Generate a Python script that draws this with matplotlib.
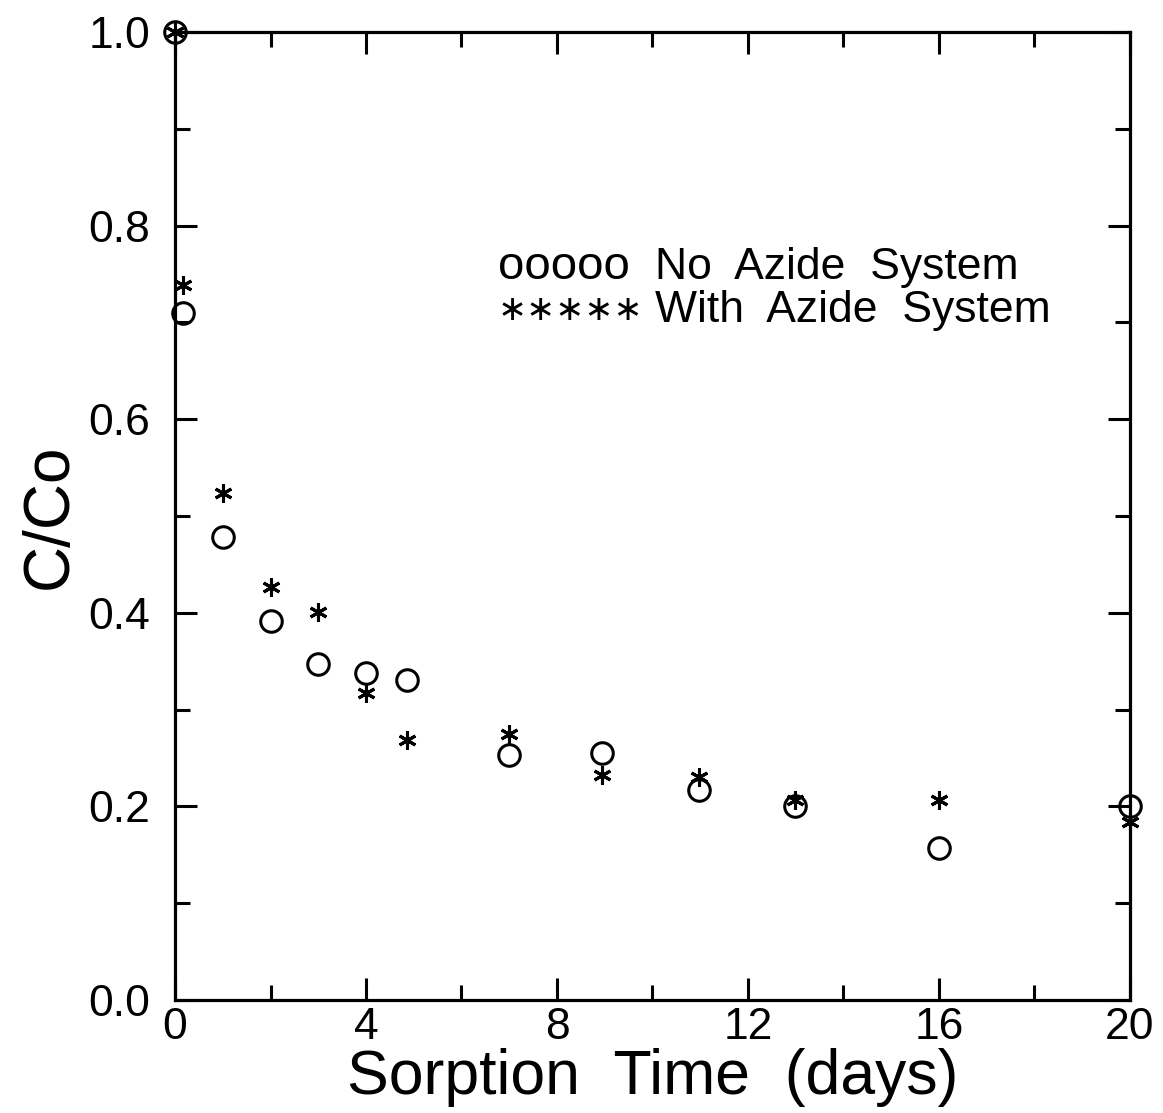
import matplotlib
matplotlib.use("Agg")
import matplotlib.pyplot as plt
from matplotlib.ticker import MultipleLocator, FormatStrFormatter

plt.rcParams['font.family'] = ['Liberation Sans', 'DejaVu Sans']

# sorption time (days)
days = [0, 0.17, 1, 2, 3, 4, 4.86, 7, 8.94, 10.97, 12.98, 16, 20]
# C/Co, no azide system (circles)
no_azide = [1.0, 0.71, 0.478, 0.392, 0.347, 0.338, 0.331, 0.253, 0.255, 0.217, 0.200, 0.157, 0.200]
# C/Co, with azide system (asterisks)
with_azide = [1.0, 0.739, 0.524, 0.427, 0.401, 0.317, 0.269, 0.275, 0.232, 0.230, 0.207, 0.207, 0.184]

fig = plt.figure(figsize=(11.63, 11.13), dpi=100)
ax = fig.add_axes([0.1505, 0.1015, 0.821, 0.8697])

ax.plot(days, no_azide, linestyle='none', marker='o', markersize=15.5,
        markerfacecolor='none', markeredgecolor='black', markeredgewidth=2.2, clip_on=False)
ax.plot(days, with_azide, linestyle='none', marker=(6, 2, 0), markersize=13,
        color='black', markeredgewidth=2.2, clip_on=False)

ax.set_xlim(0, 20)
ax.set_ylim(0, 1.0)
ax.xaxis.set_major_locator(MultipleLocator(4))
ax.xaxis.set_minor_locator(MultipleLocator(2))
ax.yaxis.set_major_locator(MultipleLocator(0.2))
ax.yaxis.set_minor_locator(MultipleLocator(0.1))
ax.yaxis.set_major_formatter(FormatStrFormatter('%.1f'))

ax.tick_params(which='both', direction='in', top=True, right=True, width=2.2, labelsize=32)
ax.tick_params(which='major', length=16)
ax.tick_params(which='minor', length=11)
ax.tick_params(axis='x', pad=5)
ax.tick_params(axis='y', pad=18)
for s in ax.spines.values():
    s.set_linewidth(2.3)

ax.set_xlabel('Sorption  Time  (days)', fontsize=45, labelpad=0)
ax.set_ylabel('C/Co', fontsize=46, labelpad=6)

# legend written as text, like the original
ax.text(0.338, 0.745, 'ooooo', transform=ax.transAxes, fontsize=34)
ax.text(0.338, 0.703, '∗∗∗∗∗', transform=ax.transAxes, fontsize=25)
ax.text(0.503, 0.745, 'No  Azide  System', transform=ax.transAxes, fontsize=32)
ax.text(0.503, 0.700, 'With  Azide  System', transform=ax.transAxes, fontsize=32)

fig.savefig('out.png', dpi=100)
